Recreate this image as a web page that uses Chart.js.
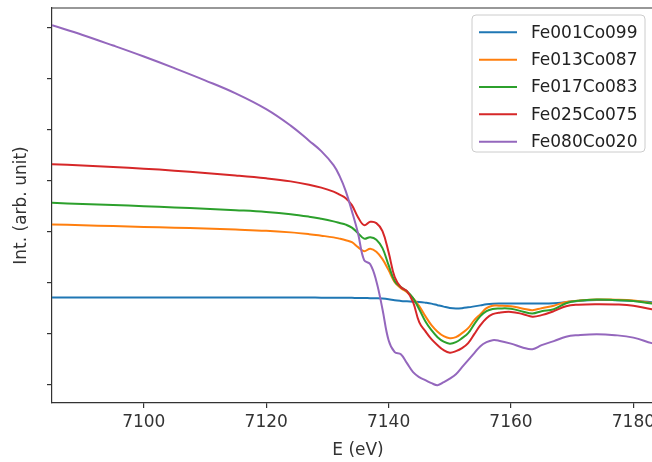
<!DOCTYPE html>
<html>
<head>
<meta charset="utf-8">
<script src="https://cdn.jsdelivr.net/npm/chart.js@4.4.1/dist/chart.umd.min.js"></script>
<style>
  html, body { margin: 0; padding: 0; background: #fff; overflow: hidden; width: 652px; height: 462px; }
  #wrap { position: absolute; left: 0; top: 0; width: 664px; height: 462px; }
</style>
</head>
<body>
<div id="wrap"><canvas id="c" width="664" height="462"></canvas></div>
<script>
// Photon energy (eV) sampled across the Fe K-edge
const energies = [7085, 7090, 7095, 7100, 7105, 7110, 7115, 7120, 7124, 7127, 7129, 7131,
  7132, 7133, 7134, 7135, 7136, 7137, 7138, 7139, 7140, 7141, 7142, 7143, 7144, 7145, 7146,
  7147, 7148, 7149, 7150, 7151, 7152, 7153, 7154, 7155, 7156, 7157, 7158,
  7160, 7162, 7163.5, 7165, 7167, 7169, 7171, 7174, 7177, 7180, 7183, 7185];

// Intensity (arb. unit) for each composition
const fe001co099 = [1.703, 1.703, 1.703, 1.703, 1.703, 1.703, 1.703, 1.703, 1.702, 1.701, 1.700, 1.699,
  1.698, 1.697, 1.696, 1.694, 1.692, 1.690, 1.687, 1.681, 1.668, 1.648, 1.636, 1.628, 1.621, 1.615, 1.601,
  1.582, 1.552, 1.523, 1.497, 1.487, 1.493, 1.509, 1.528, 1.548, 1.568, 1.580, 1.585,
  1.585, 1.585, 1.583, 1.583, 1.591, 1.611, 1.635, 1.654, 1.650, 1.635, 1.611, 1.601];

const fe013co087 = [3.138, 3.122, 3.106, 3.090, 3.075, 3.057, 3.037, 3.014, 2.982, 2.947, 2.917, 2.884,
  2.859, 2.829, 2.790, 2.692, 2.613, 2.662, 2.603, 2.456, 2.240, 2.004, 1.886, 1.807, 1.690, 1.532, 1.336,
  1.159, 1.031, 0.943, 0.904, 0.923, 1.002, 1.100, 1.257, 1.375, 1.493, 1.542, 1.542,
  1.532, 1.483, 1.454, 1.493, 1.542, 1.615, 1.640, 1.664, 1.660, 1.644, 1.597, 1.582];

const fe017co083 = [3.562, 3.540, 3.519, 3.497, 3.473, 3.448, 3.418, 3.383, 3.340, 3.291, 3.248, 3.198,
  3.167, 3.134, 3.075, 2.967, 2.859, 2.888, 2.839, 2.672, 2.338, 2.024, 1.906, 1.827, 1.690, 1.473, 1.238,
  1.061, 0.923, 0.835, 0.796, 0.825, 0.904, 1.002, 1.179, 1.336, 1.434, 1.477, 1.487,
  1.483, 1.424, 1.389, 1.434, 1.473, 1.591, 1.640, 1.664, 1.654, 1.635, 1.585, 1.572];

const fe025co075 = [4.322, 4.297, 4.267, 4.234, 4.194, 4.149, 4.100, 4.043, 3.984, 3.919, 3.861, 3.782,
  3.723, 3.654, 3.517, 3.281, 3.124, 3.189, 3.163, 3.006, 2.593, 2.102, 1.906, 1.827, 1.611, 1.218, 1.041,
  0.884, 0.766, 0.668, 0.619, 0.648, 0.707, 0.806, 0.982, 1.159, 1.297, 1.375, 1.405,
  1.420, 1.375, 1.326, 1.356, 1.434, 1.532, 1.562, 1.572, 1.566, 1.542, 1.473, 1.454];

const fe080co020 = [7.053, 6.861, 6.652, 6.436, 6.208, 5.969, 5.713, 5.403, 5.079, 4.784, 4.578, 4.303,
  4.086, 3.792, 3.399, 2.967, 2.436, 2.358, 2.024, 1.473, 0.864, 0.629, 0.589, 0.413, 0.236, 0.138, 0.079,
  0.020, -0.020, 0.039, 0.108, 0.196, 0.334, 0.472, 0.609, 0.747, 0.825, 0.864, 0.855,
  0.796, 0.717, 0.688, 0.766, 0.845, 0.933, 0.963, 0.982, 0.963, 0.914, 0.806, 0.747];

const seriesNames = ['Fe001Co099', 'Fe013Co087', 'Fe017Co083', 'Fe025Co075', 'Fe080Co020'];
const seriesValues = [fe001co099, fe013co087, fe017co083, fe025co075, fe080co020];
const seriesColors = ['#1f77b4', '#ff7f0e', '#2ca02c', '#d62728', '#9467bd'];

// Axis ticks
const xTicks = [7100, 7120, 7140, 7160, 7180];
const yTicks = [0, 1, 2, 3, 4, 5, 6, 7];

const FONT = 'DejaVu Sans';
const INK = '#333333';

const datasets = seriesNames.map((name, i) => ({
  label: name,
  data: energies.map((e, k) => ({ x: e, y: seriesValues[i][k] })),
  borderColor: seriesColors[i],
  backgroundColor: seriesColors[i],
  borderWidth: 2,
  pointRadius: 0,
  fill: false,
  tension: 0.4,
  order: seriesNames.length - 1 - i
}));

// Top spine of the axes frame
const frameTop = {
  id: 'frameTop',
  afterDatasetsDraw(chart) {
    const { ctx, chartArea } = chart;
    ctx.save();
    ctx.strokeStyle = INK;
    ctx.lineWidth = 1.2;
    ctx.beginPath();
    ctx.moveTo(chartArea.left, chartArea.top);
    ctx.lineTo(chartArea.right, chartArea.top);
    ctx.stroke();
    ctx.restore();
  }
};

// Legend box drawn inside the plotting area, upper right
const insideLegend = {
  id: 'insideLegend',
  afterDraw(chart) {
    const ctx = chart.ctx;
    const bx = 472, by = 15, bw = 173, bh = 137, r = 4;
    ctx.save();
    ctx.beginPath();
    ctx.moveTo(bx + r, by);
    ctx.arcTo(bx + bw, by, bx + bw, by + bh, r);
    ctx.arcTo(bx + bw, by + bh, bx, by + bh, r);
    ctx.arcTo(bx, by + bh, bx, by, r);
    ctx.arcTo(bx, by, bx + bw, by, r);
    ctx.closePath();
    ctx.fillStyle = 'rgba(255,255,255,0.8)';
    ctx.fill();
    ctx.strokeStyle = '#cccccc';
    ctx.lineWidth = 1;
    ctx.stroke();
    ctx.font = '17px "' + FONT + '"';
    ctx.textBaseline = 'middle';
    ctx.textAlign = 'left';
    chart.data.datasets.forEach((ds, i) => {
      const cy = by + 17.3 + i * 27.35;
      ctx.strokeStyle = ds.borderColor;
      ctx.lineWidth = 2;
      ctx.beginPath();
      ctx.moveTo(479, cy);
      ctx.lineTo(517, cy);
      ctx.stroke();
      ctx.fillStyle = '#222222';
      ctx.fillText(ds.label, 531, cy + 1);
    });
    ctx.restore();
  }
};

new Chart(document.getElementById('c'), {
  type: 'line',
  data: { datasets },
  plugins: [frameTop, insideLegend],
  options: {
    responsive: false,
    animation: false,
    devicePixelRatio: 1,
    layout: { padding: { top: 8, right: 0, bottom: 0, left: 0 } },
    plugins: { legend: { display: false }, tooltip: { enabled: false } },
    scales: {
      x: {
        type: 'linear',
        min: 7085,
        max: 7185,
        afterBuildTicks(scale) { scale.ticks = xTicks.map(v => ({ value: v })); },
        afterFit(scale) { scale.height = 59; },
        ticks: {
          color: INK,
          font: { family: FONT, size: 17 },
          padding: 4,
          maxRotation: 0,
          callback: v => String(v)
        },
        grid: { display: true, drawOnChartArea: false, drawTicks: true, tickLength: 5, color: INK, lineWidth: 1.2 },
        border: { display: true, color: INK, width: 1.2 },
        title: {
          display: true,
          text: 'E (eV)',
          color: INK,
          font: { family: FONT, size: 17 },
          padding: { top: 0, bottom: 1 }
        }
      },
      y: {
        type: 'linear',
        min: -0.37,
        max: 7.39,
        afterBuildTicks(scale) { scale.ticks = yTicks.map(v => ({ value: v })); },
        afterFit(scale) { scale.width = 52; },
        ticks: { display: false },
        grid: { display: true, drawOnChartArea: false, drawTicks: true, tickLength: 5, color: INK, lineWidth: 1.2 },
        border: { display: true, color: INK, width: 1.2 },
        title: {
          display: true,
          text: 'Int. (arb. unit)',
          color: INK,
          font: { family: FONT, size: 17 },
          padding: { top: 11, bottom: 0 }
        }
      }
    }
  }
});
</script>
</body>
</html>
